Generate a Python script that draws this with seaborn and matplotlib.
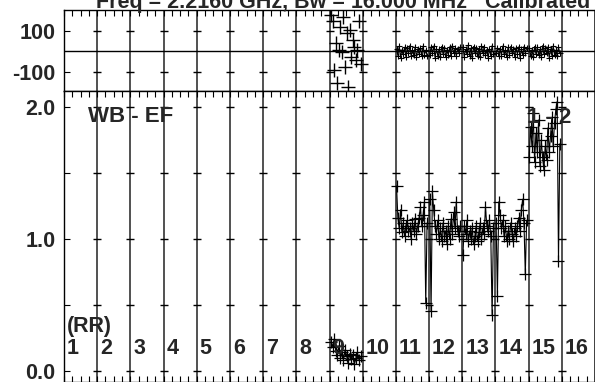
import numpy as np
import pandas as pd
import matplotlib
matplotlib.use("Agg")
import matplotlib.pyplot as plt
import seaborn as sns

# --- данные (IF = номер канала, t = доля времени внутри канала) ---
if_labels = [str(i) for i in range(1, 17)]

t9 = [0.05, 0.10, 0.14, 0.19, 0.24, 0.28, 0.33, 0.38, 0.42, 0.47,
      0.52, 0.56, 0.61, 0.66, 0.70, 0.75, 0.80, 0.84, 0.89, 0.94]
amp9 = [0.22, 0.18, 0.24, 0.15, 0.12, 0.19, 0.10, 0.14, 0.08, 0.16,
        0.11, 0.06, 0.13, 0.09, 0.12, 0.05, 0.10, 0.14, 0.08, 0.11]
phase9 = [180, 150, -90, 40, -155, 5, 120, -5, 170, -75,
          90, -175, 105, -25, 55, 20, -40, 5, 150, -60]

t = [0.02, 0.06, 0.10, 0.14, 0.18, 0.22, 0.26, 0.30, 0.34, 0.38, 0.42, 0.46,
     0.50, 0.54, 0.58, 0.62, 0.66, 0.70, 0.74, 0.78, 0.82, 0.86, 0.90, 0.94]
amp11 = [1.40, 1.16, 1.08, 1.22, 1.05, 1.12, 1.02, 1.10, 1.14, 1.06, 1.08, 1.00,
         1.12, 1.06, 1.15, 1.04, 1.10, 1.16, 1.24, 1.10, 1.18, 1.28, 0.51, 1.12]
amp12 = [1.30, 0.45, 1.36, 1.22, 1.10, 1.04, 1.14, 1.00, 1.08, 0.98, 1.12, 1.02,
         1.06, 0.96, 1.10, 1.00, 1.15, 1.04, 1.20, 1.08, 1.28, 1.06, 1.02, 1.10]
amp13 = [0.88, 1.10, 1.04, 1.14, 0.98, 1.06, 1.00, 1.08, 0.96, 1.02, 1.10, 0.98,
         1.05, 1.12, 1.00, 1.08, 1.04, 1.24, 1.10, 1.06, 1.14, 1.02, 0.42, 1.08]
amp14 = [1.12, 0.57, 1.28, 1.18, 1.08, 1.14, 1.02, 1.10, 0.98, 1.06, 1.00, 1.12,
         1.04, 0.98, 1.08, 1.02, 1.10, 1.16, 1.06, 1.22, 1.30, 1.12, 0.73, 1.14]
amp15 = [1.62, 1.85, 1.70, 1.95, 1.58, 1.80, 1.66, 1.90, 1.55, 1.75, 1.62, 1.52,
         1.70, 1.60, 1.84, 1.66, 1.78, 1.92, 1.70, 1.88, 1.98, 2.04, 0.83, 1.72]
ph11 = [12, -20, 25, -30, 8, -15, 20, -25, 15, -10, 28, -22,
        5, -18, 22, -28, 10, -12, 18, -24, 26, -16, 6, -20]
ph12 = [-18, 22, -8, 26, -30, 14, -20, 10, -26, 24, -12, 18,
        -28, 8, -16, 20, -22, 28, -10, 16, -24, 12, -6, 22]
ph13 = [20, -26, 10, -14, 30, -20, 16, -32, 24, -8, 18, -24,
        12, -28, 26, -10, 22, -18, 8, -30, 14, -22, 28, -12]
ph14 = [-10, 18, -24, 12, -20, 26, -14, 8, -28, 20, -16, 24,
        -6, 14, -26, 18, -12, 22, -30, 10, -18, 24, -8, 16]
ph15 = [16, -22, 8, -28, 24, -12, 20, -18, 10, -26, 28, -14,
        18, -8, 22, -30, 12, -20, 26, -16, 6, -24, 20, -10]

# собираем длинную таблицу: x = (IF-1) + t
rows = []
for tt, a, p in zip(t9, amp9, phase9):
    rows.append((9, 8 + tt, a, p))
for n, amps, phs in [(11, amp11, ph11), (12, amp12, ph12), (13, amp13, ph13),
                     (14, amp14, ph14), (15, amp15, ph15)]:
    for tt, a, p in zip(t, amps, phs):
        rows.append((n, n - 1 + tt, a, p))
df = pd.DataFrame(rows, columns=["IF", "x", "amp", "phase"])

sns.set_style("ticks")
plt.rcParams["font.family"] = ["Liberation Sans", "DejaVu Sans"]
plt.rcParams["font.weight"] = "bold"
plt.rcParams["axes.unicode_minus"] = False

W, H = 595, 382
fig = plt.figure(figsize=(W / 100, H / 100), dpi=100)
ax1 = fig.add_axes([64 / W, 1 - 91 / H, 1 - 64 / W, 81 / H])
ax2 = fig.add_axes([64 / W, 0, 1 - 64 / W, 291 / H])

fs = 15.5
for ax in (ax1, ax2):
    ax.set_xlim(0, 16)
    ax.set_xticks(range(0, 17))
    ax.set_xticks(np.arange(0, 16.01, 0.25), minor=True)
    ax.set_xticklabels([])
    ax.grid(axis="x", which="major", color="#222222", lw=1.1)
    for s in ax.spines.values():
        s.set_color("black")
        s.set_linewidth(1.0)
    ax.tick_params(axis="x", which="both", direction="in", top=True, length=4,
                   width=0.8, color="black")
    ax.tick_params(axis="y", which="both", direction="in", length=4, width=0.8,
                   color="black", pad=6, labelsize=fs)
ax1.tick_params(axis="x", which="both", bottom=False)

# верхняя панель: фаза
ax1.set_ylim(-193, 202)
ax1.set_yticks([-100, 100])
ax1.set_yticklabels(["-100", "100"], fontweight="bold")
ax1.axhline(0, color="black", lw=1.0)
sns.scatterplot(data=df[df["IF"] == 9], x="x", y="phase", marker="+", s=90,
                color="black", linewidth=1.0, ax=ax1, legend=False)
sns.lineplot(data=df[df["IF"] != 9], x="x", y="phase", units="IF",
             estimator=None, color="black", lw=0.8, marker="+", markersize=4,
             markeredgecolor="black", markeredgewidth=0.8, ax=ax1, legend=False)
ax1.set_xlabel("")
ax1.set_ylabel("")

# нижняя панель: амплитуда
ax2.set_ylim(-0.085, 2.12)
ax2.set_yticks([0, 1, 2])
ax2.set_yticklabels(["0.0", "1.0", "2.0"], fontweight="bold")
ax2.set_yticks([0.5, 1.5], minor=True)
sns.lineplot(data=df, x="x", y="amp", units="IF", estimator=None,
             color="black", lw=0.8, marker="+", markersize=9,
             markeredgecolor="black", markeredgewidth=0.9, ax=ax2, legend=False)
ax2.set_xlabel("")
ax2.set_ylabel("")

# чёрточки на пересечениях сетки
for ax, yv in [(ax1, [-100, 100]), (ax2, [0, 0.5, 1, 1.5, 2])]:
    gx, gy = np.meshgrid(np.arange(1, 16), yv)
    ax.plot(gx.ravel(), gy.ravel(), ls="none", marker="_", ms=6, mew=1.0,
            color="black", clip_on=False)

# подписи
for i, lab in enumerate(if_labels):
    ax2.text(i + 0.09, 0.167, lab, fontsize=fs, fontweight="bold",
             ha="left", va="center")
ax2.text(0.09, 0.333, "(RR)", fontsize=fs, fontweight="bold", ha="left", va="center")
ax2.text(0.72, 1.93, "WB - EF", fontsize=16, fontweight="bold", ha="left", va="center")
ax2.text(13.95, 1.92, "1 - 2", fontsize=16, fontweight="bold", ha="left", va="center")

fig.text(96 / W, 1 - 8 / H, "Freq = 2.2160 GHz, Bw = 16.000 MHz   Calibrated",
         fontsize=fs, fontweight="bold", ha="left", va="baseline")

fig.savefig("out.png", dpi=100)
